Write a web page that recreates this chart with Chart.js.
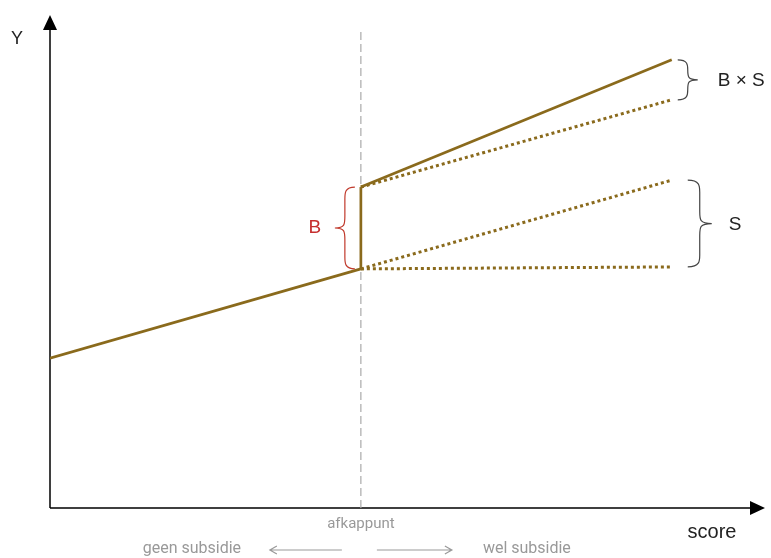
<!DOCTYPE html>
<html>
<head>
<meta charset="utf-8">
<script src="https://cdn.jsdelivr.net/npm/chart.js@4/dist/chart.umd.min.js"></script>
<style>
  html, body { margin: 0; padding: 0; background: #fff; }
  #wrap { width: 771px; height: 558px; }
</style>
</head>
<body>
<div id="wrap"><canvas id="chart"></canvas></div>
<script>
// ── Data (score on x, Y on y; cutoff at score 5)
const cutoff = 5;
const scoreStart = 0;
const scoreEnd = 10;
const xMax = 11.5;
const yMax = 10;

const baseline = [3.04, 4.85];        // y at scoreStart, cutoff (geen subsidie)
const jump = [4.85, 6.51];            // B: jump at cutoff
const withInteraction = [6.51, 9.09]; // solid, wel subsidie
const withoutInteraction = [6.51, 8.28];
const baselineContinued = [4.85, 6.65];
const flat = [4.85, 4.89];
const cutoffLineTop = 9.7;

const brown = '#8a6a1c';
const braceColor = '#444';

function seg(xs, ys) { return xs.map((x, i) => ({ x, y: ys[i] })); }

const datasets = [
  { data: seg([scoreStart, cutoff], baseline), borderColor: brown, borderWidth: 2.7 },
  { data: seg([cutoff, cutoff], jump), borderColor: brown, borderWidth: 2.7 },
  { data: seg([cutoff, scoreEnd], withInteraction), borderColor: brown, borderWidth: 2.7 },
  { data: seg([cutoff, scoreEnd], withoutInteraction), borderColor: brown, borderWidth: 3, borderDash: [3, 3] },
  { data: seg([cutoff, scoreEnd], baselineContinued), borderColor: brown, borderWidth: 3, borderDash: [3, 3] },
  { data: seg([cutoff, scoreEnd], flat), borderColor: brown, borderWidth: 3, borderDash: [3, 3] },
  { data: seg([cutoff, cutoff], [0, cutoffLineTop]), borderColor: '#aaa', borderWidth: 1.2, borderDash: [8, 4] },
].map(d => ({ ...d, pointRadius: 0, fill: false, tension: 0, showLine: true }));

// brace: ends at x0, tip at x0 + dir*w
function brace(ctx, x0, y1, y2, dir, w, color) {
  const mid = (y1 + y2) / 2;
  const xm = x0 + dir * w / 2;
  const xt = x0 + dir * w;
  const r = Math.min(12, (y2 - y1) / 4);
  ctx.save();
  ctx.strokeStyle = color;
  ctx.lineWidth = 1.2;
  ctx.beginPath();
  ctx.moveTo(x0, y1);
  ctx.bezierCurveTo(xm, y1, xm, y1 + r * 0.5, xm, y1 + r);
  ctx.lineTo(xm, mid - r);
  ctx.bezierCurveTo(xm, mid - r * 0.3, xm, mid, xt, mid);
  ctx.bezierCurveTo(xm, mid, xm, mid + r * 0.3, xm, mid + r);
  ctx.lineTo(xm, y2 - r);
  ctx.bezierCurveTo(xm, y2 - r * 0.5, xm, y2, x0, y2);
  ctx.stroke();
  ctx.restore();
}

function arrowHead(ctx, x, y, angle, len, half) {
  ctx.save();
  ctx.translate(x, y);
  ctx.rotate(angle);
  ctx.beginPath();
  ctx.moveTo(0, 0);
  ctx.lineTo(-len, -half);
  ctx.lineTo(-len, half);
  ctx.closePath();
  ctx.fill();
  ctx.restore();
}

const annotations = {
  id: 'annotations',
  beforeDatasetsDraw(chart) {
    const { ctx, scales: { x, y } } = chart;
    const x0 = x.getPixelForValue(0), y0 = y.getPixelForValue(0);
    const xEnd = x.getPixelForValue(xMax), yTop = y.getPixelForValue(yMax);
    ctx.save();
    ctx.strokeStyle = '#000';
    ctx.fillStyle = '#000';
    ctx.lineWidth = 1.5;
    ctx.beginPath();
    ctx.moveTo(x0, y0); ctx.lineTo(x0, yTop + 12);
    ctx.moveTo(x0, y0); ctx.lineTo(xEnd - 12, y0);
    ctx.stroke();
    arrowHead(ctx, x0, yTop, -Math.PI / 2, 15, 7);
    arrowHead(ctx, xEnd, y0, 0, 15, 7);
    ctx.restore();
  },
  afterDatasetsDraw(chart) {
    const { ctx, scales: { x, y } } = chart;
    const xc = x.getPixelForValue(cutoff);
    const xe = x.getPixelForValue(scoreEnd);
    const x0 = x.getPixelForValue(0), y0 = y.getPixelForValue(0);

    // braces
    brace(ctx, xc - 6, y.getPixelForValue(jump[1]), y.getPixelForValue(jump[0]), -1, 20, '#c0392b');
    brace(ctx, xe + 6, y.getPixelForValue(withInteraction[1]), y.getPixelForValue(withoutInteraction[1]), 1, 20, braceColor);
    brace(ctx, xe + 16, y.getPixelForValue(baselineContinued[1]), y.getPixelForValue(flat[1]), 1, 24, braceColor);

    ctx.save();
    ctx.textBaseline = 'middle';
    ctx.textAlign = 'center';
    ctx.fillStyle = '#c62f2f';
    ctx.font = '19px "Liberation Sans", Arial, sans-serif';
    ctx.fillText('B', xc - 46, (y.getPixelForValue(jump[0]) + y.getPixelForValue(jump[1])) / 2);

    ctx.fillStyle = '#222';
    ctx.font = '19px "Liberation Sans", Arial, sans-serif';
    ctx.textAlign = 'left';
    ctx.fillText('B × S', xe + 46, (y.getPixelForValue(withInteraction[1]) + y.getPixelForValue(withoutInteraction[1])) / 2 + 1);
    ctx.fillText('S', xe + 57, (y.getPixelForValue(baselineContinued[1]) + y.getPixelForValue(flat[1])) / 2 + 1);

    ctx.font = '18px "Liberation Sans", Arial, sans-serif';
    ctx.textAlign = 'center';
    ctx.fillText('Y', x0 - 33, y.getPixelForValue(yMax) + 24);
    ctx.font = '20px "Liberation Sans", Arial, sans-serif';
    ctx.fillText('score', 712, y0 + 24);

    // cutoff legend
    ctx.fillStyle = '#999';
    ctx.strokeStyle = '#999';
    ctx.font = '15px Roboto, sans-serif';
    ctx.fillText('afkappunt', xc, y0 + 16);
    ctx.font = '16px Roboto, sans-serif';
    ctx.fillText('geen subsidie', xc - 169, y0 + 41);
    ctx.fillText('wel subsidie', xc + 166, y0 + 41);
    ctx.lineWidth = 1.2;
    ctx.beginPath();
    ctx.moveTo(xc - 19, y0 + 42); ctx.lineTo(xc - 91, y0 + 42);
    ctx.moveTo(xc + 16, y0 + 42); ctx.lineTo(xc + 91, y0 + 42);
    ctx.moveTo(xc - 84, y0 + 38); ctx.lineTo(xc - 91, y0 + 42); ctx.lineTo(xc - 84, y0 + 46);
    ctx.moveTo(xc + 84, y0 + 38); ctx.lineTo(xc + 91, y0 + 42); ctx.lineTo(xc + 84, y0 + 46);
    ctx.stroke();
    ctx.restore();
  }
};

new Chart(document.getElementById('chart'), {
  type: 'scatter',
  data: { datasets },
  options: {
    responsive: true,
    maintainAspectRatio: false,
    animation: false,
    layout: { padding: { left: 50, top: 15, right: 6, bottom: 50 } },
    scales: {
      x: { type: 'linear', min: 0, max: xMax, display: false },
      y: { type: 'linear', min: 0, max: yMax, display: false },
    },
    plugins: { legend: { display: false }, tooltip: { enabled: false } },
  },
  plugins: [annotations],
});
</script>
</body>
</html>
